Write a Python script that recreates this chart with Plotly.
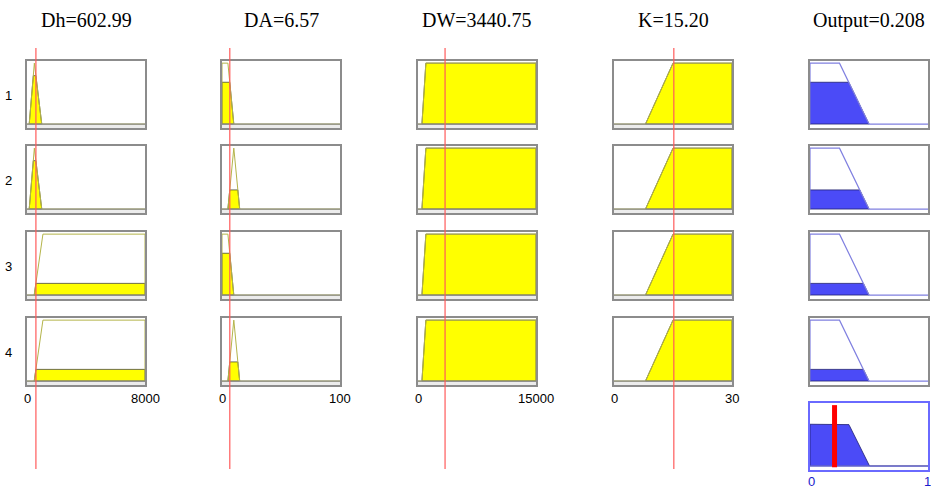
import numpy as np
import plotly.graph_objects as go

W, H = 931, 492

# ---- fuzzy system description ----
input_names = ["Dh", "DA", "DW", "K"]
input_values = [602.99, 6.57, 3440.75, 15.20]
input_ranges = [(0, 8000), (0, 100), (0, 15000), (0, 30)]
input_tick_labels = [("0", "8000"), ("0", "100"), ("0", "15000"), ("0", "30")]
rule_labels = ["1", "2", "3", "4"]

# trapezoid parameters (a, b, c, d) of the membership function used by each rule
dh_mfs = [(150, 500, 500, 1000), (150, 500, 500, 1000),
          (490, 1080, 8000, 8000), (490, 1080, 8000, 8000)]
da_mfs = [(0, 0, 5, 10), (5, 10, 10, 15), (0, 0, 5, 10), (5, 10, 10, 15)]
dw_mfs = [(500, 1000, 15000, 15000), (500, 1000, 15000, 15000),
          (500, 1000, 15000, 15000), (500, 1000, 15000, 15000)]
k_mfs = [(8, 15, 30, 30), (8, 15, 30, 30), (8, 15, 30, 30), (8, 15, 30, 30)]
input_mfs = [dh_mfs, da_mfs, dw_mfs, k_mfs]

output_name = "Output"
output_value = 0.208
output_range = (0, 1)
output_tick_labels = ("0", "1")
output_mfs = [(0, 0, 0.25, 0.5), (0, 0, 0.25, 0.5), (0, 0, 0.25, 0.5), (0, 0, 0.25, 0.5)]

# ---- layout geometry (pixels) ----
col_left = [27, 222, 418, 614, 810]
col_w = 118
row_top = [61, 146, 232, 318]
row_h = 67
agg_top = 403
y_range = [-0.065, 1.035]

YELLOW = "#FFFF00"
OLIVE = "#B4B44A"
BLUE_FILL = "#4B4BF7"
BLUE_LINE = "#8080E0"
BOX = "#8c8c8c"


def trap(x, p):
    a, b, c, d = p
    if b <= x <= c:
        return 1.0
    if a < x < b:
        return (x - a) / (b - a)
    if c < x < d:
        return (d - x) / (d - c)
    return 0.0


def mf_outline(p, lo, hi):
    a, b, c, d = p
    return [lo, a, b, c, d, hi], [0, 0, 1, 1, 0, 0]


def clipped(p, m):
    a, b, c, d = p
    return ([a, a + (b - a) * m, d - (d - c) * m, d, a],
            [0, m, m, 0, 0])


fig = go.Figure()
layout = {}
shapes = []
annotations = []
ax_id = [0]


def new_axes(left, top, xr, border=BOX):
    ax_id[0] += 1
    n = ax_id[0]
    sx = "" if n == 1 else str(n)
    dom_x = [left / W, (left + col_w) / W]
    dom_y = [1 - (top + row_h) / H, 1 - top / H]
    common = dict(showline=True, mirror=True, linecolor=border, linewidth=1.5,
                  showgrid=False, zeroline=False, showticklabels=False, ticks="")
    layout["xaxis" + sx] = dict(domain=dom_x, range=list(xr), anchor="y" + sx, **common)
    layout["yaxis" + sx] = dict(domain=dom_y, range=y_range, anchor="x" + sx, **common)
    return "x" + sx, "y" + sx


def label(text, px, py, size, color="black", family="Liberation Sans, Arial"):
    annotations.append(dict(text=text, x=px / W, y=1 - py / H, xref="paper", yref="paper",
                            xanchor="center", yanchor="middle", showarrow=False,
                            font=dict(family=family, size=size, color=color)))


# rule firing strengths (AND = min)
firing = []
for r in range(len(rule_labels)):
    mus = [trap(input_values[i], input_mfs[i][r]) for i in range(len(input_names))]
    firing.append(min(mus))

first_row_axes = []
for r in range(len(rule_labels)):
    for i in range(len(input_names)):
        lo, hi = input_ranges[i]
        xa, ya = new_axes(col_left[i], row_top[r], (lo, hi))
        if r == 0:
            first_row_axes.append(xa)
        # light strip below the zero line
        shapes.append(dict(type="rect", xref=xa, yref=ya, x0=lo, x1=hi,
                           y0=y_range[0], y1=0, fillcolor="#ececec",
                           line=dict(width=0), layer="below"))
        p = input_mfs[i][r]
        m = trap(input_values[i], p)
        fx, fy = clipped(p, m)
        fig.add_trace(go.Scatter(x=fx, y=fy, xaxis=xa, yaxis=ya, mode="lines",
                                 fill="toself", fillcolor=YELLOW,
                                 line=dict(color="#4a4a30", width=0.8),
                                 hoverinfo="skip", showlegend=False))
        ox, oy = mf_outline(p, lo, hi)
        fig.add_trace(go.Scatter(x=ox, y=oy, xaxis=xa, yaxis=ya, mode="lines",
                                 line=dict(color=OLIVE, width=1),
                                 hoverinfo="skip", showlegend=False))
        fig.add_trace(go.Scatter(x=[lo, hi], y=[0, 0], xaxis=xa, yaxis=ya, mode="lines",
                                 line=dict(color="#8a8a8a", width=1.2),
                                 hoverinfo="skip", showlegend=False))
    # output column for this rule
    lo, hi = output_range
    xa, ya = new_axes(col_left[4], row_top[r], (lo, hi))
    p = output_mfs[r]
    fx, fy = clipped(p, firing[r])
    fig.add_trace(go.Scatter(x=fx, y=fy, xaxis=xa, yaxis=ya, mode="lines",
                             fill="toself", fillcolor=BLUE_FILL,
                             line=dict(color="#202070", width=0.8),
                             hoverinfo="skip", showlegend=False))
    ox, oy = mf_outline(p, lo, hi)
    fig.add_trace(go.Scatter(x=ox, y=oy, xaxis=xa, yaxis=ya, mode="lines",
                             line=dict(color=BLUE_LINE, width=1.2),
                             hoverinfo="skip", showlegend=False))
    # rule number
    label(rule_labels[r], 8, row_top[r] + 34, 13)

# aggregated output
lo, hi = output_range
xa, ya = new_axes(col_left[4], agg_top, (lo, hi), border="#6A6AFF")
grid = np.linspace(lo, hi, 401)
agg = np.array([max(min(firing[r], trap(g, output_mfs[r])) for r in range(len(rule_labels)))
                for g in grid])
fig.add_trace(go.Scatter(x=np.concatenate([[lo], grid, [hi, lo]]),
                         y=np.concatenate([[0], agg, [0, 0]]),
                         xaxis=xa, yaxis=ya, mode="lines", fill="toself",
                         fillcolor=BLUE_FILL, line=dict(color="#202070", width=0.8),
                         hoverinfo="skip", showlegend=False))
fig.add_trace(go.Scatter(x=[lo, hi], y=[0, 0], xaxis=xa, yaxis=ya, mode="lines",
                         line=dict(color=BLUE_LINE, width=1.2),
                         hoverinfo="skip", showlegend=False))
shapes.append(dict(type="line", xref=xa, yref=ya, x0=output_value, x1=output_value,
                   y0=-0.02, y1=1.0, line=dict(color="#FF0000", width=5)))

# input value markers running through every rule
for i in range(len(input_names)):
    shapes.append(dict(type="line", xref=first_row_axes[i], yref="paper",
                       x0=input_values[i], x1=input_values[i],
                       y0=1 - 469 / H, y1=1 - 48 / H,
                       line=dict(color="rgba(255,90,90,0.8)", width=1.5)))

# titles
title_texts = ["%s=%.2f" % (n, v) for n, v in zip(input_names, input_values)]
title_texts.append("%s=%.3f" % (output_name, output_value))
for c, t in enumerate(title_texts):
    label(t, col_left[c] + col_w / 2, 20, 20, family="Liberation Serif, Times New Roman")

# range labels under each column
for i in range(len(input_names)):
    for k, px in enumerate([col_left[i], col_left[i] + col_w]):
        label(input_tick_labels[i][k], px, 398, 13)
for k, px in enumerate([col_left[4] + 1, col_left[4] + col_w - 1]):
    label(output_tick_labels[k], px, 481, 13, color="#1a1acc")

fig.update_layout(width=W, height=H, margin=dict(l=0, r=0, t=0, b=0),
                  paper_bgcolor="white", plot_bgcolor="white",
                  shapes=shapes, annotations=annotations, **layout)
fig.write_html("out.html")
